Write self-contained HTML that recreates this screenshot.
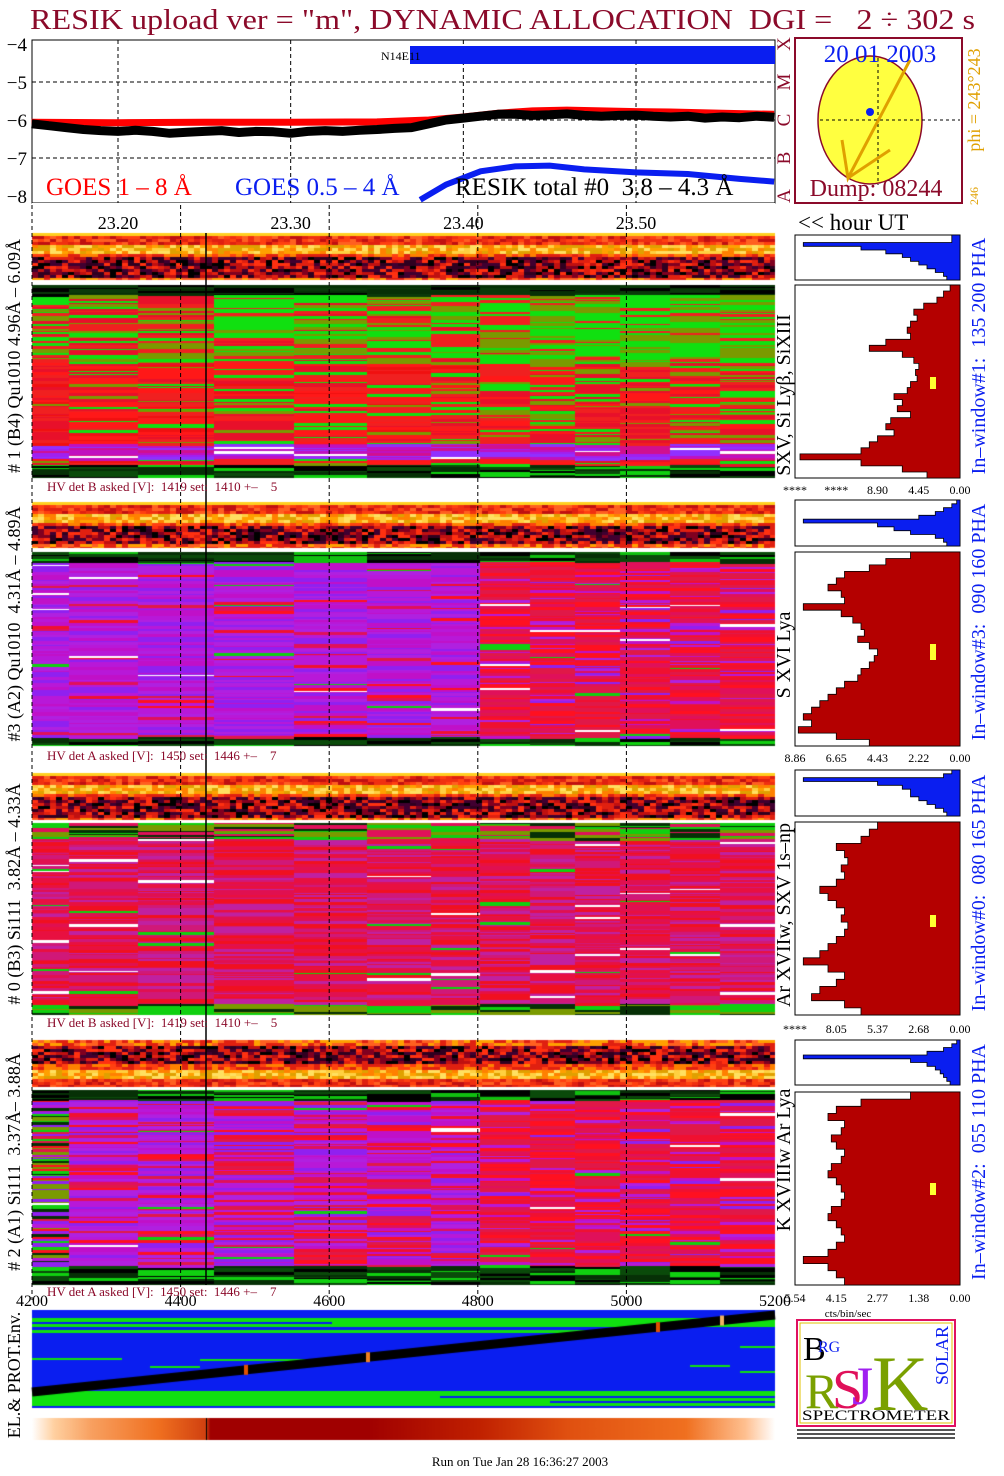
<!DOCTYPE html>
<html><head><meta charset="utf-8"><style>
html,body{margin:0;padding:0;background:#fff}
#wrap{position:relative;width:1004px;height:1476px;overflow:hidden;font-family:"Liberation Serif",serif}
canvas,svg{position:absolute;left:0;top:0}
svg text{white-space:pre}
</style></head><body>
<div id="wrap">
<canvas id="cv" width="1004" height="1476"></canvas>
<svg id="sv" width="1004" height="1476" xmlns="http://www.w3.org/2000/svg" font-family="Liberation Serif, serif">
<text x="30" y="29" font-size="29" fill="#8b0a2a" textLength="945" lengthAdjust="spacingAndGlyphs">RESIK upload ver = "m", DYNAMIC ALLOCATION  DGI =   2 ÷ 302 s</text>
<g id="topchart"></g>
<g id="hist"></g>
<g id="labels"></g>
</svg>
</div>
<script>
// ---------- data ----------
const goesTimes=[23.15,23.20,23.25,23.30,23.35,23.38,23.40,23.42,23.44,23.46,23.48,23.50,23.52,23.55,23.58];
const goesLong=[-6.06,-6.07,-6.06,-6.06,-6.05,-6.0,-5.92,-5.82,-5.76,-5.74,-5.76,-5.78,-5.79,-5.82,-5.85];
const goesShortTimes=[23.375,23.39,23.41,23.43,23.45,23.47,23.50,23.53,23.56,23.58];
const goesShort=[-8.1,-7.7,-7.35,-7.22,-7.2,-7.3,-7.38,-7.42,-7.55,-7.62];
const resikStart=23.15, resikStep=0.01;
const resikTotal=[-6.1,-6.15,-6.2,-6.25,-6.28,-6.3,-6.27,-6.3,-6.35,-6.32,-6.3,-6.28,-6.33,-6.3,-6.31,-6.35,-6.3,-6.28,-6.3,-6.27,-6.25,-6.22,-6.2,-6.1,-6.0,-5.95,-5.9,-5.85,-5.85,-5.88,-5.86,-5.84,-5.88,-5.9,-5.88,-5.87,-5.9,-5.92,-5.9,-5.95,-5.92,-5.94,-5.9,-5.93];
const yTicks=[-4,-5,-6,-7,-8];
const timeTicks=[23.20,23.30,23.40,23.50];
const classLetters=["X","M","C","B","A"];
const energyTicks=[4200,4400,4600,4800,5000,5200];
const h1Red=[0.06,0.1,0.14,0.22,0.28,0.26,0.3,0.32,0.3,0.45,0.55,0.35,0.28,0.25,0.27,0.26,0.3,0.32,0.4,0.35,0.38,0.3,0.42,0.45,0.4,0.5,0.55,0.6,0.97,0.6,0.35,0.2];
const h1Blue=[0.05,0.05,0.95,0.6,0.45,0.35,0.3,0.25,0.2,0.15,0.1,0.08];
const h2Red=[0.3,0.45,0.55,0.7,0.75,0.8,0.72,0.7,0.95,0.72,0.65,0.6,0.58,0.62,0.55,0.5,0.52,0.55,0.6,0.62,0.7,0.75,0.8,0.85,0.9,0.95,0.9,0.98,0.75,0.55];
const h2Blue=[0.02,0.05,0.1,0.15,0.25,0.95,0.5,0.4,0.3,0.15,0.1,0.08];
const h3Red=[0.5,0.55,0.6,0.75,0.7,0.68,0.72,0.7,0.75,0.85,0.8,0.75,0.7,0.72,0.68,0.7,0.75,0.8,0.85,0.95,0.8,0.7,0.75,0.85,0.9,0.7,0.6];
const h3Blue=[0.05,0.1,0.95,0.5,0.35,0.3,0.3,0.25,0.2,0.15,0.1,0.08];
const h4Red=[0.3,0.6,0.75,0.8,0.7,0.72,0.78,0.75,0.7,0.72,0.78,0.8,0.75,0.72,0.7,0.72,0.78,0.8,0.75,0.72,0.7,0.75,0.8,0.95,0.8,0.75,0.7];
const h4Blue=[0.02,0.05,0.1,0.2,0.95,0.3,0.2,0.15,0.12,0.1,0.08,0.06];
const histTicks1=["****","****","8.90","4.45","0.00"];
const histTicks2=["8.86","6.65","4.43","2.22","0.00"];
const histTicks3=["****","8.05","5.37","2.68","0.00"];
const histTicks4=["5.54","4.15","2.77","1.38","0.00"];

const NS="http://www.w3.org/2000/svg";
function mk(parent,tag,attrs,txt){const el=document.createElementNS(NS,tag);for(const k in attrs)el.setAttribute(k,attrs[k]);if(txt!==undefined)el.textContent=txt;parent.appendChild(el);return el;}
const X0=32,X1=775;
const xT=t=>118+(t-23.20)*1726.7;
const yV=v=>44+(-4-v)*38;
const xE=en=>X0+(en-4200)/1000*(X1-X0);

// ---------- top chart ----------
const TG=document.getElementById('topchart');
let e;
e=mk(TG,'rect',{x:X0,y:40,width:X1-X0,height:163,fill:'none',stroke:'#000','stroke-width':1});

yTicks.forEach(v=>{
 e=mk(TG,'text',{x:27,y:yV(v)+7,'font-size':19,'text-anchor':'end'},'−'+Math.abs(v));
 
 if(v>-8&&v<-4){e=mk(TG,'line',{x1:X0,x2:X1,y1:yV(v),y2:yV(v),stroke:'#000','stroke-dasharray':'4,3'});
 }
});
timeTicks.forEach(t=>{
 e=mk(TG,'line',{x1:xT(t),x2:xT(t),y1:40,y2:203,stroke:'#000','stroke-dasharray':'4,3'});
 
 e=mk(TG,'text',{x:xT(t),y:229,'font-size':18,'text-anchor':'middle'},t.toFixed(2));
 
});
e=mk(TG,'rect',{x:410,y:46,width:365,height:18,fill:'#0a1ef0'});

e=mk(TG,'text',{x:381,y:60,'font-size':12},'N14E11');

function pts(ts,vs){return vs.map((v,i)=>xT(ts[i]).toFixed(1)+','+yV(v).toFixed(1)).join(' ');}
e=mk(TG,'polyline',{points:pts(goesTimes,goesLong),fill:'none',stroke:'#f00','stroke-width':7});

e=mk(TG,'polyline',{points:resikTotal.map((v,i)=>xT(resikStart+i*resikStep).toFixed(1)+','+yV(v).toFixed(1)).join(' '),fill:'none',stroke:'#000','stroke-width':9,'stroke-linejoin':'bevel'});

e=mk(TG,'polyline',{points:pts(goesShortTimes,goesShort),fill:'none',stroke:'#0a1ef0','stroke-width':6});

mk(TG,'rect',{x:X0,y:203,width:X1-X0,height:10,fill:'#fff'});
e=mk(TG,'text',{x:46,y:195,'font-size':25,fill:'#f00'},'GOES 1 – 8 Å');

e=mk(TG,'text',{x:235,y:195,'font-size':25,fill:'#0a1ef0'},'GOES 0.5 – 4 Å');

e=mk(TG,'text',{x:455,y:195,'font-size':25,fill:'#000'},'RESIK total #0  3.8 – 4.3 Å');

classLetters.forEach((c,i)=>{
 e=mk(TG,'text',{x:0,y:0,'font-size':19,fill:'#8b0a2a','text-anchor':'middle',transform:`translate(790,${yV(-4-i)}) rotate(-90)`},c);
 
});
e=mk(TG,'rect',{x:795,y:38,width:167,height:165,fill:'#fff',stroke:'#8b0a2a','stroke-width':2});

e=mk(TG,'ellipse',{cx:870,cy:120,rx:52,ry:64,fill:'#ffff40',stroke:'#8b0a2a','stroke-width':1.5});

mk(TG,'line',{x1:820,x2:960,y1:120,y2:120,stroke:'#000','stroke-dasharray':'3,3'});
mk(TG,'line',{x1:878,x2:878,y1:58,y2:185,stroke:'#000','stroke-dasharray':'3,3'});
e=mk(TG,'polyline',{points:'910,60 848,178 842,140 848,178 890,150',fill:'none',stroke:'#e0a000','stroke-width':3});

e=mk(TG,'circle',{cx:870,cy:112,r:4,fill:'#0a1ef0'});

e=mk(TG,'text',{x:880,y:62,'font-size':25,fill:'#0a1ef0','text-anchor':'middle'},'20 01 2003');

e=mk(TG,'text',{x:876,y:196,'font-size':24,fill:'#8b0a2a','text-anchor':'middle'},'Dump: 08244');

e=mk(TG,'text',{x:0,y:0,'font-size':18,fill:'#e0a000','text-anchor':'middle',transform:'translate(980,100) rotate(-90)'},'phi = 243°243');

mk(TG,'text',{x:0,y:0,'font-size':12,fill:'#e0a000','text-anchor':'middle',transform:'translate(978,196) rotate(-90)'},'246');
e=mk(TG,'text',{x:798,y:230,'font-size':23},'<< hour UT');


// ---------- canvas textures ----------
const cv=document.getElementById('cv'),ctx=cv.getContext('2d');
function hsh(a,b,c){let h=(a*374761393+b*668265263+c*2147483647)|0;h=Math.imul(h^(h>>>13),1274126177);h=h^(h>>>16);return (h>>>0)/4294967296;}
const blocks=[32,69,138,214,294,367,431,480,530,575,620,670,720,775];
function pick(arr,r){return arr[Math.floor(r*arr.length)%arr.length];}
function mainColor(p,f,bi,x,r){
 if(p===1){
  if(f<0.05)return pick(['#000','#063006','#0a3a0a'],r);
  if(f>0.93)return pick(['#000','#0a4a0a','#10d010','#063006'],r);
  if(f>0.82&&f<0.9)return r<0.12?'#fff':pick(['#a020f0','#c010c0','#9030ff','#d01090'],r);
  const g=f<0.4?0.5+bi*0.03:0.12+bi*0.02;
  if(r<g*0.6)return '#10e010'; if(r<g)return '#7a9a00';
  return pick(['#f01010','#ff1818','#e8102a','#f02020'],r);
 }
 if(p===2||p===4){
  if(f<0.05)return pick(['#000','#063006','#0a4a0a','#10c010'],r);
  if(f>(p===4?0.9:0.95))return pick(['#063006','#0a4a0a','#10d010','#000'],r);
  if(r<0.015)return '#fff';
  if(p===4&&x<69&&r<0.45)return pick(['#10d010','#7a9a00','#063006'],r*2);
  if(r<0.03)return '#10d010';
  const redp = x>=480?0.8:(p===4?0.35:0.12);
  if(hsh(bi,Math.floor(f*500),7)<redp)return pick(['#f01030','#e0105a','#ff1020','#e01848'],r);
  return pick(['#b020e0','#c010c8','#9020f0','#b818d8'],r);
 }
 if(f<0.08)return pick(['#10d010','#7a9a00','#063006','#e0105a'],r);
 if(f>0.94)return pick(['#10d010','#063006','#7a9a00'],r);
 if(r<0.02)return '#fff';
 if(r<0.04)return '#10d010';
 return pick(['#e01050','#f01020','#c020a0','#d01878','#e81040'],r);
}
function drawMain(p,y0,y1){
 for(let bi=0;bi<blocks.length-1;bi++){
  let y=y0,k=0;
  while(y<y1){const th=1+Math.floor(hsh(p,k,bi*3+1)*3);
   const f=(y-y0)/(y1-y0);
   ctx.fillStyle=mainColor(p,f,bi,blocks[bi],hsh(p*11,k,bi));
   ctx.fillRect(blocks[bi],y,blocks[bi+1]-blocks[bi],Math.min(th,y1-y));y+=th;k++;}
 }
}
function stripColor(f,r){
 if(f<0.04)return '#ffd020';
 if(f<0.22)return pick(['#e02010','#ff4010','#c01010','#f03010','#ff6020'],r);
 if(f<0.42)return pick(['#ffa000','#ffd040','#e0a000','#ff8000','#ffe060'],r);
 if(f<0.5)return pick(['#e02010','#ff4010','#ff8000'],r);
 if(f<0.9)return pick(['#000','#400030','#c01010','#e02010','#300020','#800020','#ff3010'],r);
 return pick(['#e02010','#ff6020','#ffa000'],r);
}
function drawStrip(p,y0,y1,flip){
 for(let x=X0,i=0;x<X1;x+=6,i++)for(let y=y0,j=0;y<y1;y+=3,j++){
  let f=(y-y0)/(y1-y0); if(flip)f=1-f;
  ctx.fillStyle=stripColor(f,hsh(i,j,p+20));ctx.fillRect(x,y,Math.min(6,X1-x),Math.min(3,y1-y));}
}
const panels=[[233,280,285,478,1,false],[502,548,552,746,2,false],[773,820,823,1015,3,false],[1040,1087,1090,1285,4,true]];
panels.forEach(q=>{drawStrip(q[4],q[0],q[1],q[5]);drawMain(q[4],q[2],q[3]);});
// env panel
ctx.fillStyle='#0a1ef0';ctx.fillRect(X0,1310,X1-X0,98);
ctx.fillStyle='#10e010';
ctx.fillRect(X0,1318,X1-X0,9);ctx.fillRect(X0,1330,600,3);ctx.fillRect(X0,1391,X1-X0,15);
ctx.fillRect(X0,1358,90,2);ctx.fillRect(200,1359,170,2);ctx.fillRect(150,1366,50,2);ctx.fillRect(740,1346,35,2);ctx.fillRect(690,1365,40,2);ctx.fillRect(740,1371,35,2);
ctx.fillStyle='#0a1ef0';ctx.fillRect(X0,1322,300,2);ctx.fillRect(440,1396,335,2);ctx.fillRect(550,1401,225,2);
ctx.strokeStyle='#000';ctx.lineWidth=9;ctx.beginPath();ctx.moveTo(X0,1392);ctx.lineTo(X1,1315);ctx.stroke();
[[246,'#e05000'],[368,'#f08020'],[658,'#e05000'],[722,'#f0b060']].forEach(a=>{const y=1392-(a[0]-X0)/(X1-X0)*77;ctx.fillStyle=a[1];ctx.fillRect(a[0]-2,y-5,4,10);});
const grad=ctx.createLinearGradient(X0,0,X1,0);
[[0,'#fff'],[0.03,'#ffd0a0'],[0.08,'#f8a060'],[0.17,'#f07020'],[0.235,'#d04010'],[0.24,'#a00000'],[0.45,'#a00000'],[0.6,'#c02000'],[0.72,'#e05010'],[0.88,'#f07020'],[0.96,'#ffc090'],[1,'#fff']].forEach(s=>grad.addColorStop(s[0],s[1]));
ctx.fillStyle=grad;ctx.fillRect(X0,1418,X1-X0,22);
ctx.fillStyle='#000';ctx.fillRect(206,1418,1,22);

// ---------- overlay lines and labels ----------
const LG=document.getElementById('labels');
energyTicks.slice(0,5).forEach(en=>{
 e=mk(LG,'line',{x1:xE(en),x2:xE(en),y1:205,y2:1300,stroke:'#000','stroke-dasharray':'4,3'});
 
});
e=mk(LG,'line',{x1:206,x2:206,y1:233,y2:1285,stroke:'#000','stroke-width':1.5});

energyTicks.forEach(en=>{
 e=mk(LG,'text',{x:xE(en),y:1306,'font-size':16,'text-anchor':'middle'},String(en));
 
});
const hv=[[491,'HV det B asked [V]:  1419 set:  1410 +–    5'],[760,'HV det A asked [V]:  1450 set:  1446 +–    7'],[1027,'HV det B asked [V]:  1419 set:  1410 +–    5'],[1296,'HV det A asked [V]:  1450 set:  1446 +–    7']];
hv.forEach(h=>{e=mk(LG,'text',{x:47,y:h[0],'font-size':13,fill:'#8b0a2a'},h[1]);});
function rot(x,y,s,size,col,name){e=mk(LG,'text',{x:0,y:0,'font-size':size,fill:col,'text-anchor':'middle',transform:`translate(${x},${y}) rotate(-90)`},s);}
rot(20,356,'# 1 (B4) Qu1010 4.96Å – 6.09Å',18,'#000','panel-1-label');
rot(20,624,'#3 (A2) Qu1010  4.31Å – 4.89Å',18,'#000','panel-3-label');
rot(20,894,'# 0 (B3) Si111  3.82Å – 4.33Å',18,'#000','panel-0-label');
rot(20,1162,'# 2 (A1) Si111  3.37Å– 3.88Å',18,'#000','panel-2-label');
rot(20,1375,'EL.& PROT.Env.',18,'#000','env-panel-label');
rot(790,395,'SXV, Si Lyβ, SiXIII',20,'#000','line-id-1');
rot(790,655,'S XVI Lya',20,'#000','line-id-3');
rot(790,915,'Ar XVIIw, SXV 1s–np',20,'#000','line-id-0');
rot(790,1160,'K XVIIIw Ar Lya',20,'#000','line-id-2');
rot(985,356,'In–window#1:  135 200 PHA',20,'#0a1ef0','window-1-label');
rot(985,622,'In–window#3:  090 160 PHA',20,'#0a1ef0','window-3-label');
rot(985,893,'In–window#0:  080 165 PHA',20,'#0a1ef0','window-0-label');
rot(985,1162,'In–window#2:  055 110 PHA',20,'#0a1ef0','window-2-label');
e=mk(LG,'text',{x:520,y:1466,'font-size':13,'text-anchor':'middle'},'Run on Tue Jan 28 16:36:27 2003');


// ---------- histograms ----------
const HG=document.getElementById('hist');
const HX0=795,HX1=960;
const hx=f=>HX1-f*(HX1-HX0);
function histo(vals,y0,y1,col,name){
 e=mk(HG,'rect',{x:HX0,y:y0,width:HX1-HX0,height:y1-y0,fill:'#fff',stroke:'#000'});
 
 const rh=(y1-y0)/vals.length;
 let d='M'+HX1+','+y0;
 vals.forEach((v,i)=>{d+=' L'+hx(v).toFixed(1)+','+(y0+i*rh).toFixed(1)+' L'+hx(v).toFixed(1)+','+(y0+(i+1)*rh).toFixed(1);});
 d+=' L'+HX1+','+y1+' Z';
 e=mk(HG,'path',{d:d,fill:col,stroke:'#000','stroke-width':0.8});
 
}
const hp=[[h1Blue,235,280,h1Red,285,478,histTicks1,494,381],[h2Blue,500,546,h2Red,552,746,histTicks2,762,648],[h3Blue,770,816,h3Red,822,1015,histTicks3,1033,919],[h4Blue,1040,1085,h4Red,1092,1285,histTicks4,1302,1187]];
hp.forEach((q,i)=>{
 histo(q[0],q[1],q[2],'#0a1ef0','total-pha-hist-'+i);
 histo(q[3],q[4],q[5],'#b40000','window-pha-hist-'+i);
 e=mk(HG,'rect',{x:930,y:q[8]-4,width:6,height:i==1?16:12,fill:'#ffff30'});
 
 q[6].forEach((t,k)=>{e=mk(HG,'text',{x:HX0+k*(HX1-HX0)/4,y:q[7],'font-size':12,'text-anchor':'middle'},t);
  });
});
e=mk(HG,'text',{x:848,y:1317,'font-size':11,'text-anchor':'middle'},'cts/bin/sec');


// ---------- logo ----------
const lg=mk(HG,'g',{});


mk(lg,'rect',{x:797,y:1320,width:158,height:106,fill:'#fff',stroke:'#e01060','stroke-width':2});
mk(lg,'rect',{x:800,y:1323,width:152,height:100,fill:'none',stroke:'#e0c000','stroke-width':1});
mk(lg,'text',{x:803,y:1360,'font-size':34,fill:'#000'},'B');
mk(lg,'text',{x:818,y:1352,'font-size':16,fill:'#0a1ef0'},'RG');
mk(lg,'text',{x:805,y:1408,'font-size':50,fill:'#7aa000'},'R');
mk(lg,'text',{x:832,y:1408,'font-size':56,fill:'#e0105a'},'S');
mk(lg,'text',{x:852,y:1404,'font-size':54,fill:'#a020f0'},'J');
mk(lg,'text',{x:872,y:1410,'font-size':78,fill:'#7aa000'},'K');
mk(lg,'text',{x:0,y:0,'font-size':18,fill:'#0a1ef0',transform:'translate(948,1385) rotate(-90)'},'SOLAR');
mk(lg,'text',{x:876,y:1420,'font-size':15,'text-anchor':'middle',textLength:148,lengthAdjust:'spacingAndGlyphs'},'SPECTROMETER');
for(let r=0;r<3;r++){mk(lg,'rect',{x:797,y:1429+r*4,width:158,height:2,fill:'#555'});}
</script>
</body></html>
